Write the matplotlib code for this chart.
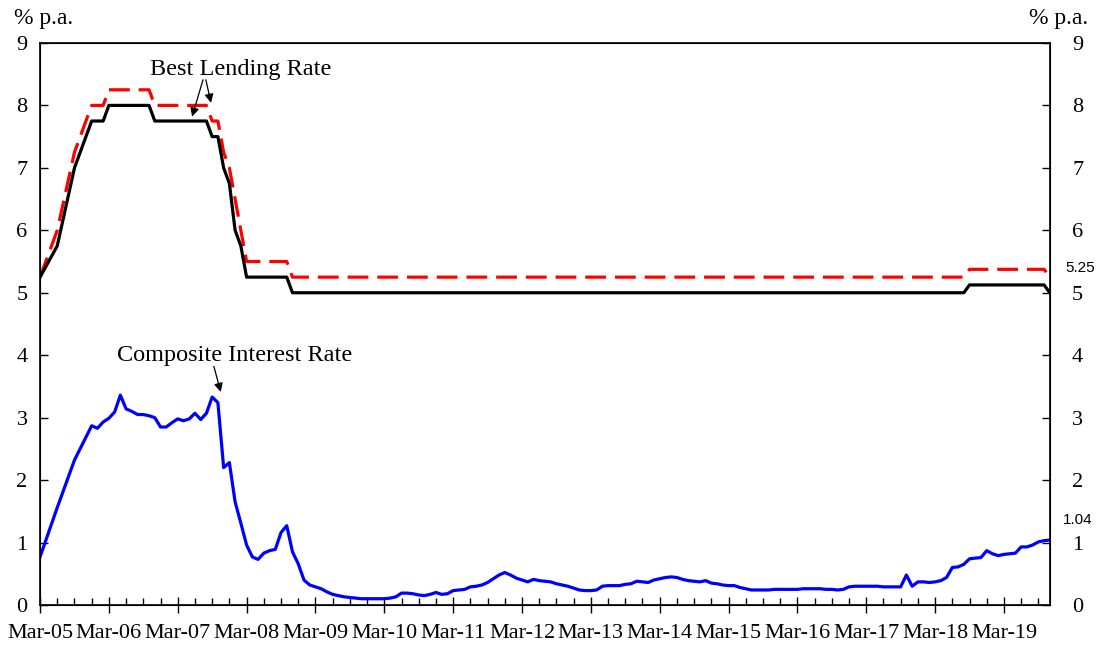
import matplotlib
matplotlib.use('Agg')
import matplotlib.pyplot as plt
from matplotlib.ticker import FixedLocator, MultipleLocator
import numpy as np

plt.rcParams['font.family'] = ['Liberation Serif', 'DejaVu Serif']

# month index: 0 = Mar-05 ... 176 = Nov-19
years = list(range(2005, 2020))
tick_labels = ['Mar-%02d' % (y % 100) for y in years]

# best lending rate (lower, black) - change points (month index, % p.a.)
blr_low_m = [0, 3, 6, 9, 11, 12, 19, 20, 29, 30, 31, 32, 33, 34, 35, 36, 43, 44,
             161, 162, 175, 176]
blr_low_v = [5.25, 5.75, 7.0, 7.75, 7.75, 8.0, 8.0, 7.75, 7.75, 7.5, 7.5, 7.0, 6.75,
             6.0, 5.75, 5.25, 5.25, 5.0, 5.0, 5.125, 5.125, 5.0]

# best lending rate (higher, red dashed)
blr_high_m = blr_low_m
blr_high_v = [5.25, 6.0, 7.25, 8.0, 8.0, 8.25, 8.25, 8.0, 8.0, 7.75, 7.75, 7.25, 7.0,
              6.5, 6.0, 5.5, 5.5, 5.25, 5.25, 5.375, 5.375, 5.25]

# composite interest rate: quarterly to Dec-05, monthly afterwards
cir_early_m = [0, 3, 6]
cir_early_v = [0.77, 1.56, 2.32]
cir_monthly = [
    2.87, 2.83, 2.93, 2.99, 3.09, 3.36, 3.14, 3.10, 3.05, 3.05, 3.03, 3.00,   # m9-20
    2.85, 2.85, 2.92, 2.98, 2.95, 2.98, 3.07, 2.97, 3.07, 3.33, 3.24, 2.20,   # m21-32
    2.28, 1.65, 1.31, 0.96, 0.77, 0.73, 0.83, 0.87, 0.89, 1.16, 1.27, 0.85,   # m33-44
    0.66, 0.40, 0.32, 0.29, 0.26, 0.21, 0.17, 0.15, 0.13, 0.12, 0.11, 0.10,   # m45-56
    0.10, 0.10, 0.10, 0.10, 0.11, 0.13, 0.19, 0.19, 0.18, 0.16, 0.15, 0.17,   # m57-68
    0.20, 0.17, 0.18, 0.23, 0.24, 0.25, 0.29, 0.30, 0.32, 0.36, 0.42, 0.48,   # m69-80
    0.52, 0.48, 0.43, 0.40, 0.37, 0.41, 0.39, 0.38, 0.37, 0.34, 0.32, 0.30,   # m81-92
    0.27, 0.24, 0.23, 0.23, 0.24, 0.30, 0.31, 0.31, 0.31, 0.33, 0.34, 0.38,   # m93-104
    0.37, 0.36, 0.40, 0.42, 0.44, 0.45, 0.44, 0.41, 0.39, 0.38, 0.37, 0.39,   # m105-116
    0.35, 0.34, 0.32, 0.31, 0.31, 0.28, 0.26, 0.24, 0.24, 0.24, 0.24, 0.25,   # m117-128
    0.25, 0.25, 0.25, 0.25, 0.26, 0.26, 0.26, 0.26, 0.25, 0.25, 0.24, 0.25,   # m129-140
    0.29, 0.30, 0.30, 0.30, 0.30, 0.30, 0.29, 0.29, 0.29, 0.29, 0.48, 0.30,   # m141-152
    0.37, 0.37, 0.36, 0.37, 0.39, 0.44, 0.60, 0.61, 0.65, 0.74, 0.75, 0.76,   # m153-164
    0.87, 0.82, 0.79, 0.81, 0.82, 0.83, 0.93, 0.93, 0.96, 1.01, 1.03, 1.04,   # m165-176
]
cir_m = cir_early_m + list(range(9, 9 + len(cir_monthly)))
cir_v = cir_early_v + cir_monthly

fig = plt.figure(figsize=(11, 6.46), dpi=100)
ax = fig.add_axes([0.0364, 0.0635, 0.918, 0.870])

ax.plot(blr_high_m, blr_high_v, color='#ff0000', lw=2.3, dashes=(6.5, 2.8))
ax.plot(blr_low_m, blr_low_v, color='black', lw=2.3)
ax.plot(cir_m, cir_v, color='#0000ff', lw=2.3)

ax.set_xlim(0, 176)
ax.set_ylim(0, 9)
ax.xaxis.set_major_locator(FixedLocator([12 * i for i in range(len(years))]))
ax.set_xticklabels(tick_labels)
ax.xaxis.set_minor_locator(MultipleLocator(3))
ax.yaxis.set_major_locator(MultipleLocator(1))

ax.tick_params(axis='x', which='major', direction='inout', length=12, width=1,
               labelsize=16, pad=8)
ax.tick_params(axis='x', which='minor', direction='in', length=5, width=1)
ax.tick_params(axis='y', which='major', direction='in', length=6, width=1,
               labelsize=16, pad=9)
for s in ax.spines.values():
    s.set_linewidth(1.2)

# right-hand scale
ax2 = ax.twinx()
ax2.set_ylim(0, 9)
ax2.yaxis.set_major_locator(MultipleLocator(1))
ax2.tick_params(axis='y', which='major', direction='in', length=6, width=1,
                labelsize=16, pad=16)

# unit labels
fig.text(0.040, 0.972, '% p.a.', fontsize=17, ha='center', va='center')
fig.text(0.962, 0.972, '% p.a.', fontsize=17, ha='center', va='center')

# annotations
ax.text(35, 8.57, 'Best Lending Rate', fontsize=17.5, ha='center', va='center')
ax.annotate('', xy=(26.5, 7.82), xytext=(28.4, 8.41),
            arrowprops=dict(arrowstyle='-|>', color='black', lw=0.9,
                            mutation_scale=13, shrinkA=0, shrinkB=0))
ax.annotate('', xy=(29.8, 8.04), xytext=(28.9, 8.41),
            arrowprops=dict(arrowstyle='-|>', color='black', lw=0.9,
                            mutation_scale=13, shrinkA=0, shrinkB=0))

ax.text(34, 4.0, 'Composite Interest Rate', fontsize=17.5, ha='center', va='center')
ax.annotate('', xy=(31.5, 3.41), xytext=(30.3, 3.82),
            arrowprops=dict(arrowstyle='-|>', color='black', lw=0.9,
                            mutation_scale=13, shrinkA=0, shrinkB=0))

# latest values
ax.text(181.2, 5.40, '5.25', fontsize=11, ha='center', va='center',
        family='Liberation Sans', clip_on=False)
ax.text(180.8, 1.36, '1.04', fontsize=11, ha='center', va='center',
        family='Liberation Sans', clip_on=False)

fig.savefig('out.png', dpi=100)
